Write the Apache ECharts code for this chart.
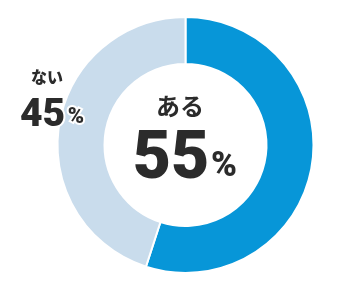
<!DOCTYPE html>
<html><head><meta charset="utf-8">
<script src="https://cdn.jsdelivr.net/npm/echarts@6/dist/echarts.min.js"></script>
<style>html,body{margin:0;padding:0;background:#fff}#c{width:349px;height:293px}</style>
</head><body><div id="c"></div>
<script>
const categories = ['ある', 'ない'];
const values = [55, 45];
const colors = ['#0796d8', '#c9dcec'];

const chart = echarts.init(document.getElementById('c'), null, {renderer: 'canvas'});
const numFont = '"Roboto", "Liberation Sans", sans-serif';
const jpFont = '"Noto Sans CJK JP", sans-serif';
const ink = '#2b2b2b';
function txt(text, x, y, size, family, weight, extra) {
  return Object.assign({type: 'text', z: 100, x: x, y: y, style: Object.assign({
    text: text, font: weight + ' ' + size + 'px ' + family, fill: ink, align: 'center', verticalAlign: 'middle'
  }, extra || {})});
}
const halo = {stroke: '#fff', lineWidth: 4};
chart.setOption({
  animation: false,
  series: [{
    type: 'pie',
    center: [185.5, 145],
    radius: [81, 128],
    startAngle: 90,
    clockwise: true,
    silent: true,
    label: {show: false},
    labelLine: {show: false},
    itemStyle: {borderColor: '#fff', borderWidth: 2},
    data: categories.map((c, i) => ({name: c, value: values[i], itemStyle: {color: colors[i]}}))
  }],
  graphic: [
    txt(categories[0], 180, 106, 24, jpFont, 'bold'),
    txt(String(values[0]), 171, 161.5, 66, numFont, '900'),
    txt('%', 224, 167, 35, numFont, '900'),
    txt(categories[1], 47, 77, 16, jpFont, '900', halo),
    txt(String(values[1]), 42.5, 116, 39, numFont, '900', halo),
    txt('%', 76, 117.5, 22, numFont, '900', halo)
  ]
});
</script></body></html>
